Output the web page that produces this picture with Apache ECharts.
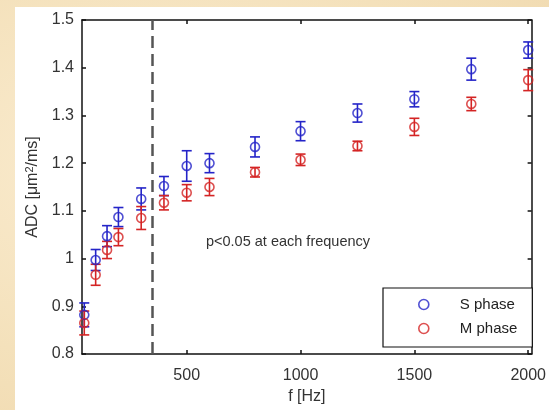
<!DOCTYPE html>
<html>
<head>
<meta charset="utf-8">
<script src="https://cdn.jsdelivr.net/npm/echarts@6/dist/echarts.min.js"></script>
<style>
  html, body { margin: 0; padding: 0; }
  body {
    width: 549px; height: 410px; overflow: hidden; position: relative;
    background: radial-gradient(ellipse at 30% 40%, #fbedd2 0%, #f4e1bb 60%, #f0d9ae 100%);
  }
  #paper { position: absolute; left: 15px; top: 7px; right: 0; bottom: 0; background: #fff; }
  #chart { position: absolute; left: 0; top: 0; width: 549px; height: 410px; }
</style>
</head>
<body>
<div id="paper"></div>
<div id="chart"></div>
<script>
// frequencies (Hz)
const freq = [50, 100, 150, 200, 300, 400, 500, 600, 800, 1000, 1250, 1500, 1750, 2000]
// S phase mean ADC and error
const sMean = [0.882, 0.997, 1.047, 1.087, 1.125, 1.152, 1.194, 1.200, 1.234, 1.267, 1.305, 1.334, 1.397, 1.437]
const sErr  = [0.025, 0.022, 0.022, 0.020, 0.023, 0.020, 0.032, 0.020, 0.021, 0.020, 0.019, 0.016, 0.023, 0.017]
// M phase mean ADC and error
const mMean = [0.865, 0.966, 1.018, 1.045, 1.085, 1.117, 1.138, 1.150, 1.181, 1.207, 1.236, 1.276, 1.324, 1.374]
const mErr  = [0.025, 0.022, 0.018, 0.018, 0.024, 0.015, 0.017, 0.018, 0.010, 0.012, 0.010, 0.018, 0.014, 0.022]
const xTicks = [500, 1000, 1500, 2000]
const cutoffHz = 350

const BLUE = '#2424c8'
const RED = '#d42424'

const chart = echarts.init(document.getElementById('chart'), null, { renderer: 'canvas' })

function errData(mean, err) {
  return freq.map((f, i) => [f, mean[i] - err[i], mean[i] + err[i]])
}

function errRender(color) {
  return function (params, api) {
    const x = api.value(0)
    const lo = api.coord([x, api.value(1)])
    const hi = api.coord([x, api.value(2)])
    const w = 5
    const style = { stroke: color, lineWidth: 1.6, fill: null }
    return {
      type: 'group',
      children: [
        { type: 'line', shape: { x1: lo[0], y1: lo[1], x2: hi[0], y2: hi[1] }, style },
        { type: 'line', shape: { x1: lo[0] - w, y1: lo[1], x2: lo[0] + w, y2: lo[1] }, style },
        { type: 'line', shape: { x1: hi[0] - w, y1: hi[1], x2: hi[0] + w, y2: hi[1] }, style }
      ]
    }
  }
}

const axisLine = { show: true, lineStyle: { color: '#111', width: 1.5 } }
const tick = { show: true, inside: true, length: 4, lineStyle: { color: '#111', width: 1.5 } }
const labelStyle = { color: '#333', fontSize: 16, fontFamily: 'Liberation Sans, Arial, sans-serif' }

chart.setOption({
  animation: false,
  backgroundColor: 'transparent',
  grid: { left: 82, top: 20, right: 11, bottom: 56 },
  xAxis: [{
    type: 'value', min: 40, max: 2015, position: 'bottom',
    axisLine, axisTick: { ...tick, customValues: xTicks },
    axisLabel: { ...labelStyle, margin: 14, customValues: xTicks, formatter: v => String(v) },
    splitLine: { show: false },
    name: 'f [Hz]', nameLocation: 'middle', nameGap: 34,
    nameTextStyle: { ...labelStyle, fontSize: 16 }
  }, {
    type: 'value', min: 40, max: 2015, position: 'top',
    axisLine, axisTick: { ...tick, customValues: xTicks },
    axisLabel: { show: false }, splitLine: { show: false }
  }],
  yAxis: [{
    type: 'value', min: 0.8, max: 1.5, interval: 0.1, position: 'left',
    axisLine, axisTick: tick,
    axisLabel: { ...labelStyle, margin: 8, formatter: v => String(+v.toFixed(1)) },
    splitLine: { show: false },
    name: 'ADC [μm{sup|2}/ms]', nameLocation: 'middle', nameGap: 41, nameRotate: 90,
    nameTextStyle: {
      ...labelStyle, fontSize: 16,
      rich: { sup: { fontSize: 11, verticalAlign: 'top', color: '#333', padding: [0, 0, 6, 0] } }
    }
  }, {
    type: 'value', min: 0.8, max: 1.5, interval: 0.1, position: 'right',
    axisLine, axisTick: tick,
    axisLabel: { show: false }, splitLine: { show: false }
  }],
  legend: {
    orient: 'vertical', left: 383, top: 288,
    padding: [9, 15, 11, 35], itemGap: 9,
    itemWidth: 10, itemHeight: 10,
    backgroundColor: '#fff', borderColor: '#111', borderWidth: 1.2, borderRadius: 0,
    textStyle: { color: '#222', fontSize: 15, fontFamily: 'Liberation Sans, Arial, sans-serif', padding: [0, 0, 0, 26] },
    data: [
      { name: 'S phase', icon: 'circle', itemStyle: { color: 'transparent', borderColor: BLUE, borderWidth: 1.6 } },
      { name: 'M phase', icon: 'circle', itemStyle: { color: 'transparent', borderColor: RED, borderWidth: 1.6 } }
    ]
  },
  graphic: [{
    type: 'text', left: 206, top: 234, silent: true,
    style: { text: 'p<0.05 at each frequency', fill: '#333', fontSize: 14.5, fontFamily: 'Liberation Sans, Arial, sans-serif' }
  }],
  series: [{
    type: 'line', data: [], silent: true,
    markLine: {
      silent: true, symbol: 'none', label: { show: false },
      lineStyle: { color: '#555', width: 2.5, type: [12, 6] },
      data: [{ xAxis: cutoffHz }]
    }
  }, {
    name: 'S phase err', type: 'custom', renderItem: errRender(BLUE),
    data: errData(sMean, sErr), encode: { x: 0, y: [1, 2] }, z: 3, clip: false
  }, {
    name: 'S phase', type: 'scatter', symbol: 'circle', symbolSize: 9,
    data: freq.map((f, i) => [f, sMean[i]]), z: 4,
    itemStyle: { color: 'transparent', borderColor: BLUE, borderWidth: 1.6 }
  }, {
    name: 'M phase err', type: 'custom', renderItem: errRender(RED),
    data: errData(mMean, mErr), encode: { x: 0, y: [1, 2] }, z: 3, clip: false
  }, {
    name: 'M phase', type: 'scatter', symbol: 'circle', symbolSize: 9,
    data: freq.map((f, i) => [f, mMean[i]]), z: 4,
    itemStyle: { color: 'transparent', borderColor: RED, borderWidth: 1.6 }
  }]
})
</script>
</body>
</html>
